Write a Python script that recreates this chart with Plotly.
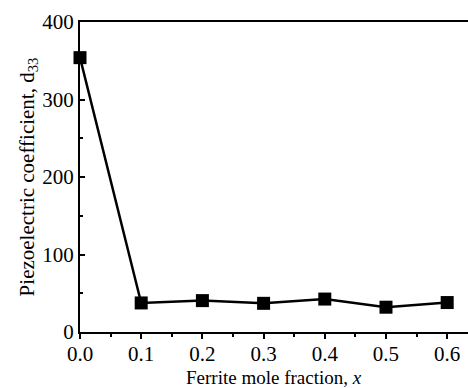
import plotly.graph_objects as go

x_vals = [0.0, 0.1, 0.2, 0.3, 0.4, 0.5, 0.6]
d33_vals = [354, 37.5, 40.5, 37, 42.5, 32, 38]
x_ticks = [0.0, 0.1, 0.2, 0.3, 0.4, 0.5, 0.6]
y_ticks = [0, 100, 200, 300, 400]

fig = go.Figure()
fig.add_trace(go.Scatter(
    x=x_vals, y=d33_vals, mode="lines+markers",
    line=dict(color="black", width=2.5),
    marker=dict(symbol="square", size=13, color="black"),
    cliponaxis=False,
))

font = "Liberation Serif, Times New Roman, serif"
fig.update_layout(
    width=468, height=388,
    margin=dict(l=80, r=0, t=22, b=56),
    paper_bgcolor="white", plot_bgcolor="white",
    showlegend=False,
    font=dict(family=font, color="black", size=22),
)
fig.update_xaxes(
    range=[0, 0.634], tickvals=x_ticks, tickformat=".1f",
    showline=True, linecolor="black", linewidth=2, mirror=True,
    ticks="outside", ticklen=5, tickwidth=2, tickcolor="black",
    minor=dict(dtick=0.05, ticks="outside", ticklen=3, tickwidth=2, tickcolor="black"),
    showgrid=False, zeroline=False,
    tickfont=dict(size=21), ticklabelstandoff=-3,
)
fig.add_annotation(
    text="Ferrite mole fraction, <i>x</i>", xref="paper", yref="paper",
    x=(274 - 80) / 388, y=-(377 - 332) / 310, xanchor="center", yanchor="middle",
    showarrow=False, font=dict(size=19),
)
fig.update_yaxes(
    range=[0, 400], tickvals=y_ticks,
    showline=True, linecolor="black", linewidth=2,
    ticks="inside", ticklen=5, tickwidth=2, tickcolor="black",
    minor=dict(dtick=50, ticks="inside", ticklen=3, tickwidth=2, tickcolor="black"),
    showgrid=False, zeroline=False,
    tickfont=dict(size=21),
    title=dict(text="Piezoelectric coefficient, d<sub>33</sub>", font=dict(size=21), standoff=2),
)
fig.write_html("out.html")
